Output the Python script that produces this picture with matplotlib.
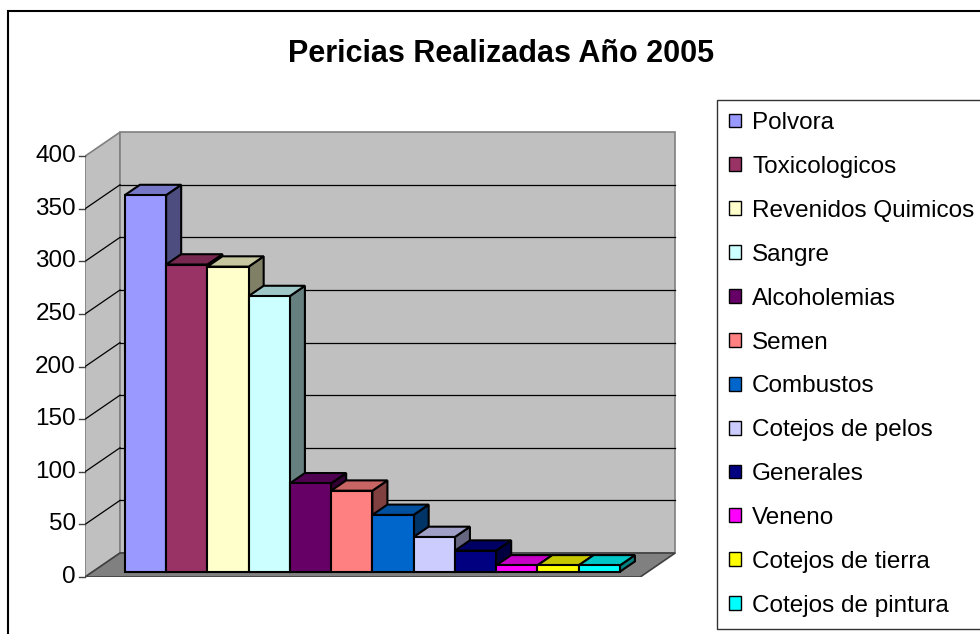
import matplotlib
matplotlib.use("Agg")
import matplotlib.pyplot as plt
from matplotlib.patches import Polygon, Patch, Rectangle
from matplotlib.colors import to_rgb
import numpy as np

plt.rcParams['font.family'] = ['Liberation Sans', 'DejaVu Sans']

# DATOS
# -----
categorias = ['Polvora', 'Toxicologicos', 'Revenidos Quimicos', 'Sangre',
              'Alcoholemias', 'Semen', 'Combustos', 'Cotejos de pelos',
              'Generales', 'Veneno', 'Cotejos de tierra', 'Cotejos de pintura']
valores = [358, 292, 290, 262, 84, 77, 54, 33, 20, 6, 6, 6]
colores = ['#9999FF', '#993366', '#FFFFCC', '#CCFFFF', '#660066', '#FF8080',
           '#0066CC', '#CCCCFF', '#000080', '#FF00FF', '#FFFF00', '#00FFFF']
ticks_y = list(range(0, 401, 50))

# geometria del pseudo 3D (en unidades de datos)
W, H = 980, 634
px_x = 41.25          # pixeles por barra
px_y = 1.052          # pixeles por unidad
DX = 35 / px_x        # profundidad completa
DY = 24 / px_y
d0 = 0.22             # frente de las barras dentro de la profundidad
bd = 0.43             # fondo de las barras
pad = 0.78
n = len(valores)
XL = -0.5 - pad
XR = n - 0.5 + pad - 0.1

fig = plt.figure(figsize=(W / 100, H / 100), dpi=100)
left, right, top, bottom = 85, 680, 125, 577
ax = fig.add_axes([left / W, 1 - bottom / H, (right - left) / W, (bottom - top) / H])
ax.set_xlim(XL, XL + (right - left) / px_x)
ax.set_ylim(0, (bottom - top) / px_y)
ax.axis('off')

ymax = ticks_y[-1]
# paredes y piso
ax.add_patch(Polygon([(XL, 0), (XL, ymax), (XL + DX, ymax + DY), (XL + DX, DY)],
                     closed=True, facecolor='#C0C0C0', edgecolor='#808080', lw=1.2, zorder=1))
ax.add_patch(Polygon([(XL + DX, DY), (XR + DX, DY), (XR + DX, ymax + DY), (XL + DX, ymax + DY)],
                     closed=True, facecolor='#C0C0C0', edgecolor='#808080', lw=1.2, zorder=1))
ax.add_patch(Polygon([(XL, 0), (XR, 0), (XR + DX, DY), (XL + DX, DY)],
                     closed=True, facecolor='#808080', edgecolor='#404040', lw=1.2, zorder=1.5))
for v in ticks_y[1:-1]:
    ax.plot([XL + DX, XR + DX], [v + DY, v + DY], color='black', lw=0.9, zorder=1.2)
    ax.plot([XL, XL + DX], [v, v + DY], color='black', lw=0.9, zorder=1.2)

# ticks y etiquetas del eje
for v in ticks_y:
    ax.plot([XL - 6 / px_x, XL], [v, v], color='#404040', lw=1, zorder=2, clip_on=False)
    ax.text(XL - 9 / px_x, v, str(v), ha='right', va='center', fontsize=17.5)

# barras
for i, (val, c) in enumerate(zip(valores, colores)):
    rgb = np.array(to_rgb(c))
    x0 = i - 0.5 + d0 * DX
    x1 = x0 + 1
    y0 = d0 * DY
    y1 = y0 + val
    ox, oy = bd * DX, bd * DY
    ax.add_patch(Polygon([(x1, y0), (x1, y1), (x1 + ox, y1 + oy), (x1 + ox, y0 + oy)],
                         closed=True, facecolor=rgb * 0.5, edgecolor='black', lw=1.5, zorder=3 + i))
    ax.add_patch(Polygon([(x0, y1), (x1, y1), (x1 + ox, y1 + oy), (x0 + ox, y1 + oy)],
                         closed=True, facecolor=rgb * 0.78, edgecolor='black', lw=1.5, zorder=3 + i))
    ax.bar(x0 + 0.5, val, width=1, bottom=y0, color=c, edgecolor='black', lw=1.5, zorder=3.5 + i)

# titulo
fig.text(501 / W, 1 - 54 / H, 'Pericias Realizadas Año 2005', ha='center', va='center',
         fontsize=22, fontweight='bold')

# leyenda
handles = [Patch(facecolor=c, edgecolor='black', lw=1) for c in colores]
leg = fig.legend(handles, categorias, loc='upper left', bbox_to_anchor=(717 / W, 1 - 100 / H),
                 fontsize=17.5, frameon=True, fancybox=False, edgecolor='black',
                 handlelength=0.5, handleheight=0.5, handletextpad=0.45,
                 labelspacing=0.9, borderpad=0.5, borderaxespad=0)
leg.get_frame().set_linewidth(1)

# borde exterior
fig.patches.append(Rectangle((8 / W, -0.1), 1.2, 1.1 - 11 / H, transform=fig.transFigure,
                             fill=False, edgecolor='black', lw=1.5))

fig.savefig('out.png', dpi=100)
